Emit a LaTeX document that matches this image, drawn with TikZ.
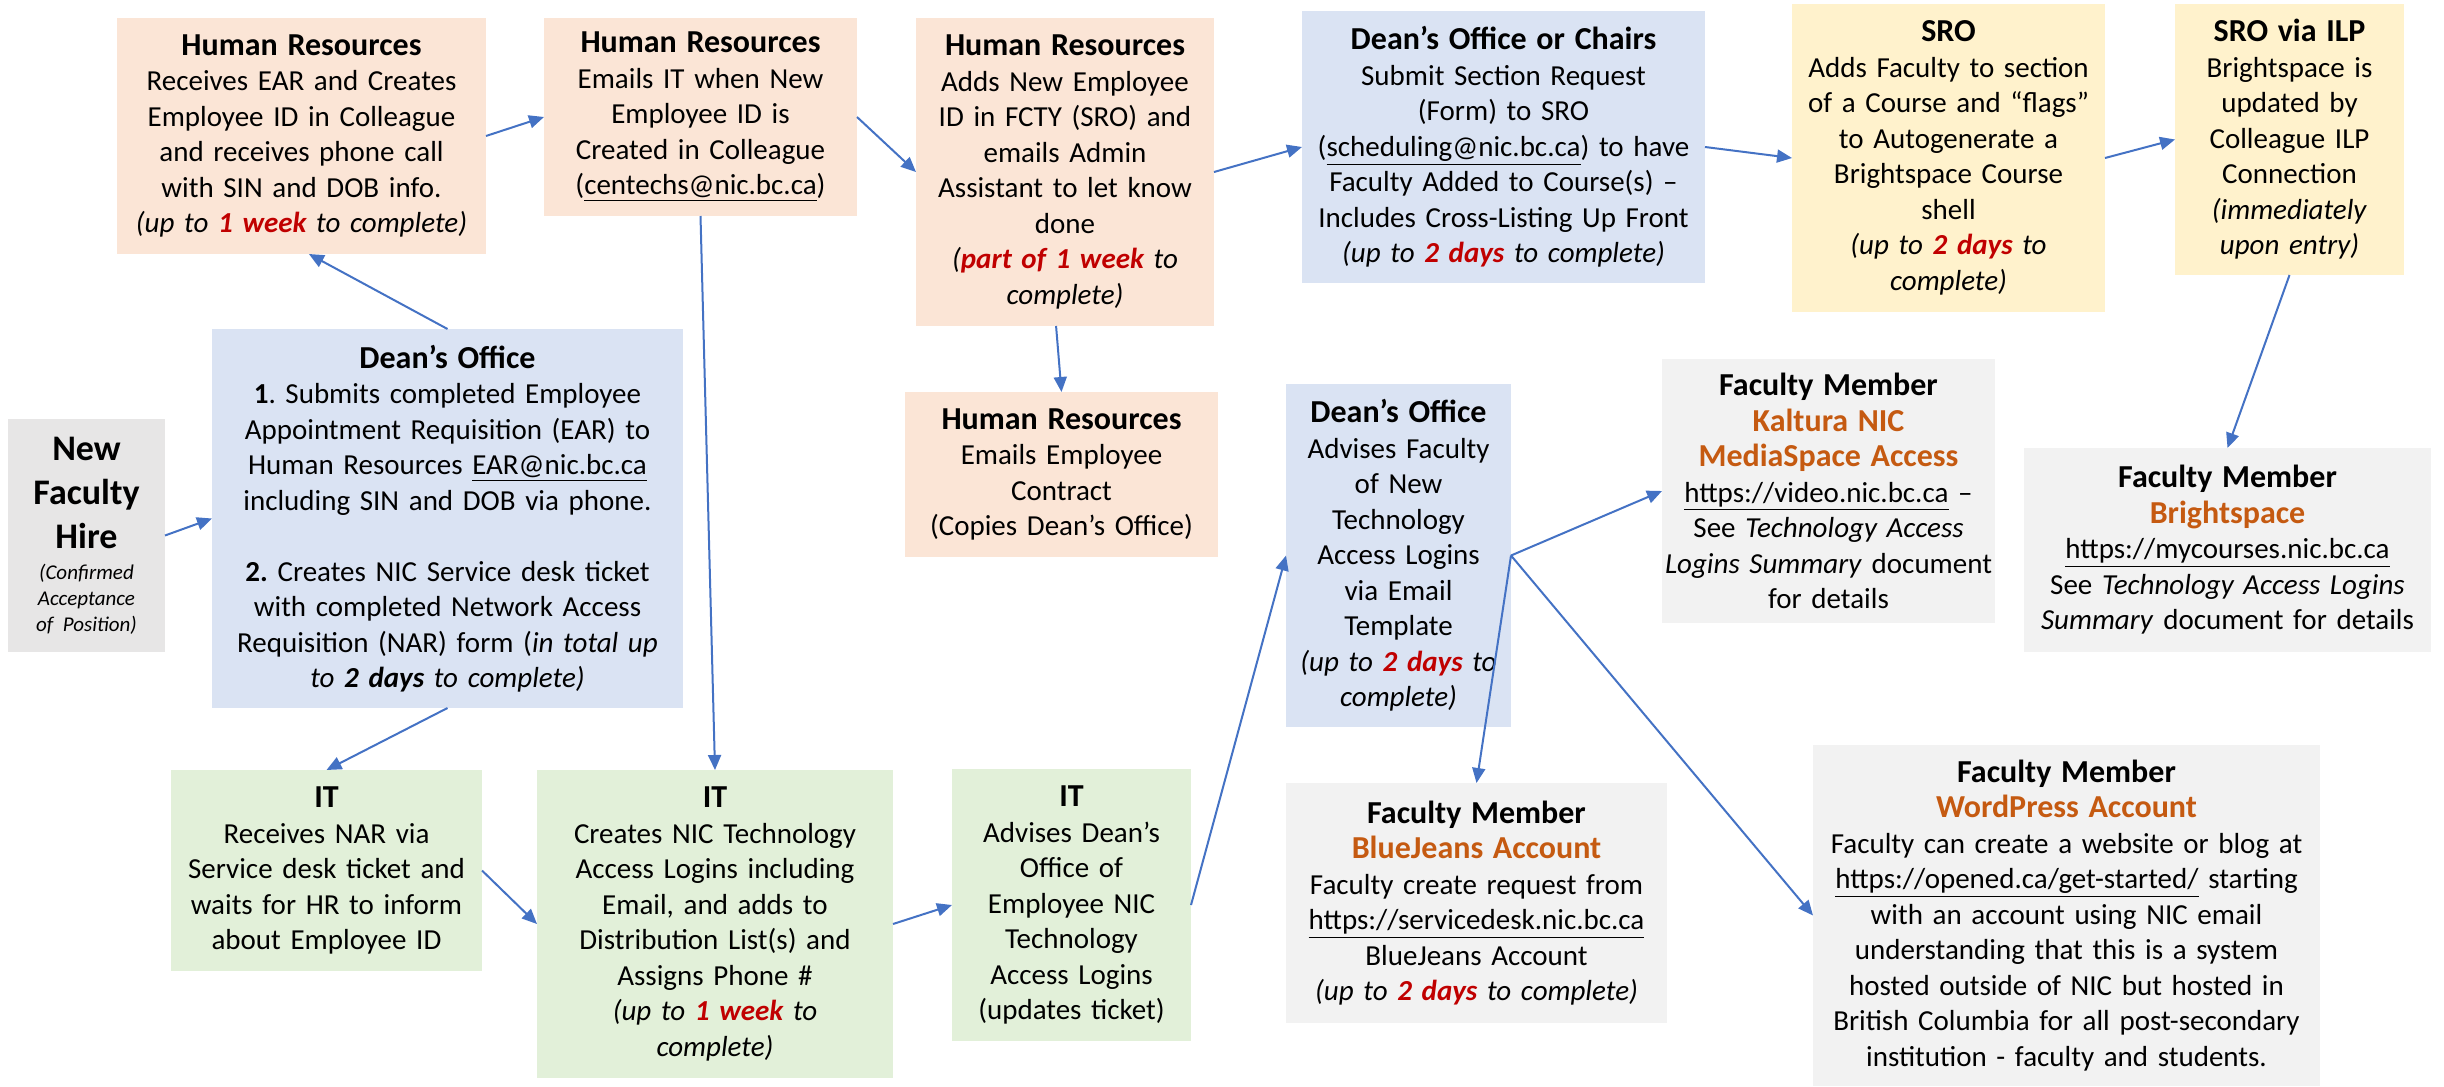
\documentclass[tikz,border=0pt]{standalone}
\usepackage{fontspec}
\setmainfont{Carlito}
\usetikzlibrary{arrows.meta,calc}
\frenchspacing
\definecolor{hrfill}{HTML}{FBE5D6}
\definecolor{bluefill}{HTML}{DAE3F3}
\definecolor{yelfill}{HTML}{FFF2CC}
\definecolor{grnfill}{HTML}{E2F0D9}
\definecolor{facfill}{HTML}{F2F2F2}
\definecolor{nfhfill}{HTML}{E7E6E6}
\definecolor{arrowblue}{HTML}{4472C4}
\definecolor{dred}{HTML}{C00000}
\definecolor{orng}{HTML}{C55A11}
\newcommand\ttl[1]{{\fontsize{16}{17.75}\selectfont\bfseries #1}}
\newcommand\otl[1]{{\fontsize{16}{17.75}\selectfont\bfseries\color{orng}#1}}
\newcommand\rd[1]{{\bfseries\color{dred}#1}}
\tikzset{
  box/.style={inner sep=0pt, outer sep=0pt, align=center, text=black,
    font=\fontsize{14.5}{17.75}\selectfont\frenchspacing},
  dim/.style 2 args={minimum width=#1pt, minimum height=#2pt, text width=#1pt},
  hrbox/.style={box, fill=hrfill},
  bluebox/.style={box, fill=bluefill},
  yelbox/.style={box, fill=yelfill},
  grnbox/.style={box, fill=grnfill},
  facbox/.style={box, fill=facfill},
  nfhbox/.style={box, fill=nfhfill},
  conn/.style={draw=arrowblue, line width=1pt, -{Triangle[length=7.5pt,width=6.5pt]}}
}
\begin{document}
\begin{tikzpicture}[x=0.5pt,y=-0.5pt]
\useasboundingbox (0,0) rectangle (2444,1086);

\node[nfhbox, dim={78.5}{116.5}] (nfh) at (86.5,535.5)
  {{\fontsize{18}{22}\selectfont\bfseries New\\Faculty\\Hire\par}\vspace{2.5pt}%
   {\fontsize{10.5}{13}\selectfont\itshape (Confirmed\\Acceptance\\of Position)\par}};

\node[bluebox, dim={235.5}{189.5}] (do1) at (447.5,518.5)
  {\ttl{Dean’s Office}\\
   \textbf{1}. Submits completed Employee\\
   Appointment Requisition (EAR) to\\
   Human Resources \underline{EAR@nic.bc.ca}\\
   including SIN and DOB via phone.\\[17.75pt]
   \textbf{2.} Creates NIC Service desk ticket\\
   with completed Network Access\\
   Requisition (NAR) form (\textit{in total up}\\
   \textit{to \textbf{2 days} to complete)}};

\node[hrbox, dim={184.5}{118}] (hr1) at (301.5,136)
  {\ttl{Human Resources}\\
   Receives EAR and Creates\\
   Employee ID in Colleague\\
   and receives phone call\\
   with SIN and DOB info.\\
   \textit{(up to \rd{1 week} to complete)}};

\node[hrbox, dim={156.5}{99}] (hr2) at (700.5,117)
  {\ttl{Human Resources}\\
   Emails IT when New\\
   Employee ID is\\
   Created in Colleague\\
   (\underline{centechs@nic.bc.ca})};

\node[hrbox, dim={149}{154}] (hr3) at (1065,172)
  {\ttl{Human Resources}\\
   Adds New Employee\\
   ID in FCTY (SRO) and\\
   emails Admin\\
   Assistant to let know\\
   done\\
   \textit{(\rd{part of 1 week} to}\\
   \textit{complete)}};

\node[bluebox, dim={201.5}{136}] (dc) at (1503.5,147)
  {\ttl{Dean’s Office or Chairs}\\
   Submit Section Request\\
   (Form) to SRO\\
   (\underline{scheduling@nic.bc.ca}) to have\\
   Faculty Added to Course(s) –\\
   Includes Cross-Listing Up Front\\
   \textit{(up to \rd{2 days} to complete)}};

\node[yelbox, dim={156.5}{154}] (sro) at (1948.5,158)
  {\ttl{SRO}\\
   Adds Faculty to section\\
   of a Course and “flags”\\
   to Autogenerate a\\
   Brightspace Course\\
   shell\\
   \textit{(up to \rd{2 days} to}\\
   \textit{complete)}};

\node[yelbox, dim={114.5}{135.5}] (ilp) at (2289.5,139.5)
  {\ttl{SRO via ILP}\\
   Brightspace is\\
   updated by\\
   Colleague ILP\\
   Connection\\
   \textit{(immediately}\\
   \textit{upon entry)}};

\node[hrbox, dim={156.5}{82.5}] (hr4) at (1061.5,474.5)
  {\ttl{Human Resources}\\
   Emails Employee\\
   Contract\\
   (Copies Dean’s Office)};

\node[bluebox, dim={112.5}{171.5}] (do2) at (1398.5,555.5)
  {\ttl{Dean’s Office}\\
   Advises Faculty\\
   of New\\
   Technology\\
   Access Logins\\
   via Email\\
   Template\\
   \textit{(up to \rd{2 days} to}\\
   \textit{complete)}};

\node[facbox, dim={166.5}{132}] (kal) at (1828.5,491)
  {\ttl{Faculty Member}\\
   \otl{Kaltura NIC}\\
   \otl{MediaSpace Access}\\
   \underline{https://video.nic.bc.ca} –\\
   See \textit{Technology Access}\\
   \textit{Logins Summary} document\\
   for details};

\node[facbox, dim={203.5}{102}] (bri) at (2227.5,550)
  {\ttl{Faculty Member}\\
   \otl{Brightspace}\\
   \underline{https://mycourses.nic.bc.ca}\\
   See \textit{Technology Access Logins}\\
   \textit{Summary} document for details};

\node[grnbox, dim={155.5}{100.5}] (it1) at (326.5,870.5)
  {\ttl{IT}\\
   Receives NAR via\\
   Service desk ticket and\\
   waits for HR to inform\\
   about Employee ID};

\node[grnbox, dim={178}{154}] (it2) at (715,924)
  {\ttl{IT}\\
   Creates NIC Technology\\
   Access Logins including\\
   Email, and adds to\\
   Distribution List(s) and\\
   Assigns Phone \#\\
   \textit{(up to \rd{1 week} to}\\
   \textit{complete)}};

\node[grnbox, dim={119.5}{136}] (it3) at (1071.5,905)
  {\ttl{IT}\\
   Advises Dean’s\\
   Office of\\
   Employee NIC\\
   Technology\\
   Access Logins\\
   (updates ticket)};

\node[facbox, dim={190.5}{120}] (bj) at (1476.5,903)
  {\ttl{Faculty Member}\\
   \otl{BlueJeans Account}\\
   Faculty create request from\\
   \underline{https://servicedesk.nic.bc.ca}\\
   BlueJeans Account\\
   \textit{(up to \rd{2 days} to complete)}};

\node[facbox, dim={253.5}{170.5}] (wp) at (2066.5,915.5)
  {\ttl{Faculty Member}\\
   \otl{WordPress Account}\\
   Faculty can create a website or blog at\\
   \underline{https://opened.ca/get-started/} starting\\
   with an account using NIC email\\
   understanding that this is a system\\
   hosted outside of NIC but hosted in\\
   British Columbia for all post-secondary\\
   institution - faculty and students.};

% connectors
\draw[conn] (nfh.east) -- (do1.west);
\draw[conn] (do1.north) -- ($(hr1.south west)!0.52!(hr1.south east)$);
\draw[conn] (hr1.east) -- (hr2.west);
\draw[conn] (hr2.east) -- (hr3.west);
\draw[conn] (hr3.east) -- (dc.west);
\draw[conn] (dc.east) -- (sro.west);
\draw[conn] (sro.east) -- (ilp.west);
\draw[conn] (ilp.south) -- (bri.north);
\draw[conn] ($(hr3.south west)!0.47!(hr3.south east)$) -- (hr4.north);
\draw[conn] (hr2.south) -- (it2.north);
\draw[conn] (do1.south) -- (it1.north);
\draw[conn] (it1.east) -- (it2.west);
\draw[conn] (it2.east) -- (it3.west);
\draw[conn] (it3.east) -- (do2.west);
\draw[conn] (do2.east) -- (kal.west);
\draw[conn] (do2.east) -- (bj.north);
\draw[conn] (do2.east) -- (wp.west);
\end{tikzpicture}
\end{document}
